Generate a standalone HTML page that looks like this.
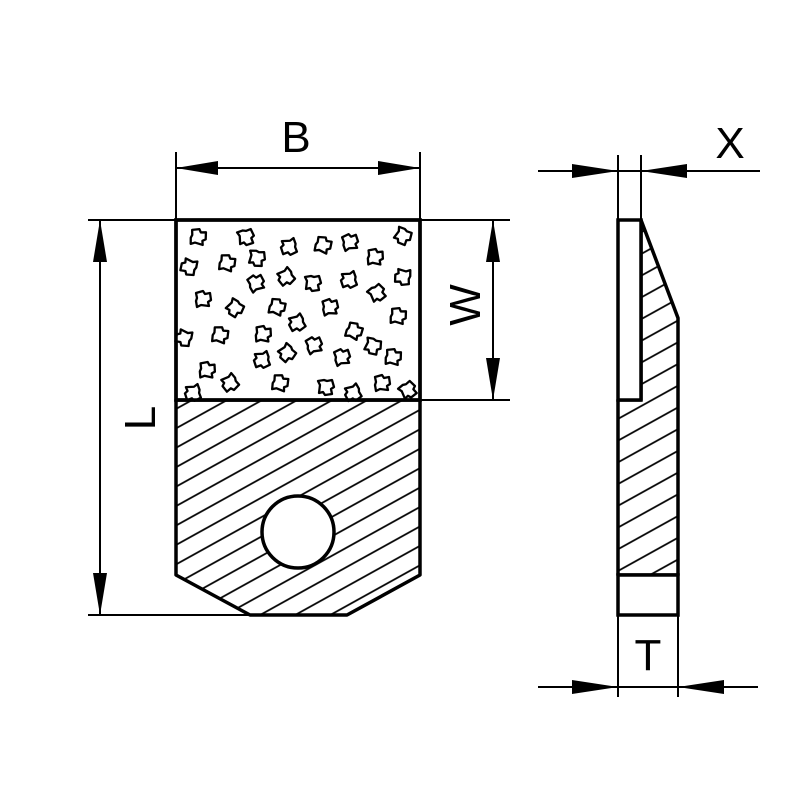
<!DOCTYPE html>
<html><head><style>html,body{margin:0;padding:0;background:#fff}</style></head>
<body>
<svg width="800" height="800" viewBox="0 0 800 800" xmlns="http://www.w3.org/2000/svg">
<defs>
<pattern id="h" patternUnits="userSpaceOnUse" width="40" height="17" patternTransform="rotate(-29)">
<line x1="0" y1="1" x2="40" y2="1" stroke="#000" stroke-width="1.8"/>
</pattern>
<pattern id="h2" patternUnits="userSpaceOnUse" width="40" height="19" patternTransform="rotate(-29)">
<line x1="0" y1="1" x2="40" y2="1" stroke="#000" stroke-width="1.8"/>
</pattern>
<path id="g" d="M-7,-6 L0,-8 L2,-5 L7,-6 L8,1 L5,3 L6,7 L-2,6 L-6,8 L-7,2 L-6,-1 Z" fill="#fff" stroke="#000" stroke-width="2.3" stroke-linejoin="round"/>
</defs>

<path d="M176,400 L420,400 L420,575 L347,615 L250,615 L176,575 Z" fill="url(#h)" stroke="#000" stroke-width="3.5" stroke-linejoin="round"/>
<circle cx="298" cy="532" r="36" fill="#fff" stroke="#000" stroke-width="3.5"/>
<rect x="176" y="220" width="244" height="180" fill="#fff" stroke="#000" stroke-width="3.5"/>

<g>
<use href="#g" transform="translate(198,237) rotate(10)"/>
<use href="#g" transform="translate(246,237) rotate(80)"/>
<use href="#g" transform="translate(289,247) rotate(170)"/>
<use href="#g" transform="translate(323,245) rotate(20)"/>
<use href="#g" transform="translate(350,242) rotate(-10)"/>
<use href="#g" transform="translate(403,236) rotate(120)"/>
<use href="#g" transform="translate(189,267) rotate(200)"/>
<use href="#g" transform="translate(227,263) rotate(15)"/>
<use href="#g" transform="translate(257,258) rotate(100)"/>
<use href="#g" transform="translate(375,257) rotate(5)"/>
<use href="#g" transform="translate(256,283) rotate(-20)"/>
<use href="#g" transform="translate(286,277) rotate(150)"/>
<use href="#g" transform="translate(313,283) rotate(90)"/>
<use href="#g" transform="translate(349,280) rotate(170)"/>
<use href="#g" transform="translate(377,293) rotate(60)"/>
<use href="#g" transform="translate(403,277) rotate(190)"/>
<use href="#g" transform="translate(203,299) rotate(0)"/>
<use href="#g" transform="translate(235,308) rotate(130)"/>
<use href="#g" transform="translate(277,307) rotate(20)"/>
<use href="#g" transform="translate(297,323) rotate(160)"/>
<use href="#g" transform="translate(330,307) rotate(-5)"/>
<use href="#g" transform="translate(398,316) rotate(10)"/>
<use href="#g" transform="translate(184,338) rotate(200)"/>
<use href="#g" transform="translate(220,335) rotate(15)"/>
<use href="#g" transform="translate(263,334) rotate(5)"/>
<use href="#g" transform="translate(287,353) rotate(140)"/>
<use href="#g" transform="translate(314,345) rotate(-15)"/>
<use href="#g" transform="translate(354,331) rotate(25)"/>
<use href="#g" transform="translate(373,346) rotate(110)"/>
<use href="#g" transform="translate(393,357) rotate(10)"/>
<use href="#g" transform="translate(262,360) rotate(170)"/>
<use href="#g" transform="translate(342,357) rotate(-10)"/>
<use href="#g" transform="translate(207,370) rotate(5)"/>
<use href="#g" transform="translate(230,383) rotate(150)"/>
<use href="#g" transform="translate(280,383) rotate(15)"/>
<use href="#g" transform="translate(326,387) rotate(90)"/>
<use href="#g" transform="translate(382,383) rotate(0)"/>
<use href="#g" transform="translate(193,393) rotate(170)"/>
<use href="#g" transform="translate(353,393) rotate(160)"/>
<use href="#g" transform="translate(408,390) rotate(60)"/>
</g>
<rect x="176" y="220" width="244" height="180" fill="none" stroke="#000" stroke-width="3.5"/>

<path d="M641,220 L678,318 L678,575 L618,575 L618,400 L641,400 Z" fill="url(#h2)" stroke="#000" stroke-width="3.5" stroke-linejoin="round"/>
<rect x="618" y="220" width="23" height="180" fill="#fff" stroke="#000" stroke-width="3.5"/>
<rect x="618" y="575" width="60" height="40" fill="#fff" stroke="#000" stroke-width="3.5"/>

<g stroke="#000" stroke-width="2" fill="none">
<line x1="176" y1="152" x2="176" y2="220"/>
<line x1="420" y1="152" x2="420" y2="220"/>
<line x1="176" y1="168" x2="420" y2="168"/>
<line x1="88" y1="220" x2="510" y2="220"/>
<line x1="88" y1="615" x2="250" y2="615"/>
<line x1="100" y1="220" x2="100" y2="615"/>
<line x1="420" y1="400" x2="510" y2="400"/>
<line x1="493" y1="220" x2="493" y2="400"/>
<line x1="618" y1="155" x2="618" y2="220"/>
<line x1="641" y1="155" x2="641" y2="220"/>
<line x1="538" y1="171" x2="760" y2="171"/>
<line x1="618" y1="615" x2="618" y2="697"/>
<line x1="678" y1="615" x2="678" y2="697"/>
<line x1="538" y1="687" x2="758" y2="687"/>
</g>
<g fill="#000">
<polygon points="176,168 218,161 218,175"/>
<polygon points="420,168 378,161 378,175"/>
<polygon points="100,220 93,262 107,262"/>
<polygon points="100,615 93,573 107,573"/>
<polygon points="493,220 486,262 500,262"/>
<polygon points="493,400 486,358 500,358"/>
<polygon points="618,171 572,164 572,178"/>
<polygon points="641,171 687,164 687,178"/>
<polygon points="618,687 572,680 572,694"/>
<polygon points="678,687 724,680 724,694"/>
</g>
<g font-family="Liberation Sans, sans-serif" font-size="44" fill="#000">
<text x="296" y="152" text-anchor="middle">B</text>
<text x="730" y="158" text-anchor="middle">X</text>
<text x="648" y="670" text-anchor="middle">T</text>
<text transform="translate(155,418) rotate(-90)" text-anchor="middle">L</text>
<text transform="translate(480,305) rotate(-90)" text-anchor="middle">W</text>
</g>
</svg>
</body></html>
